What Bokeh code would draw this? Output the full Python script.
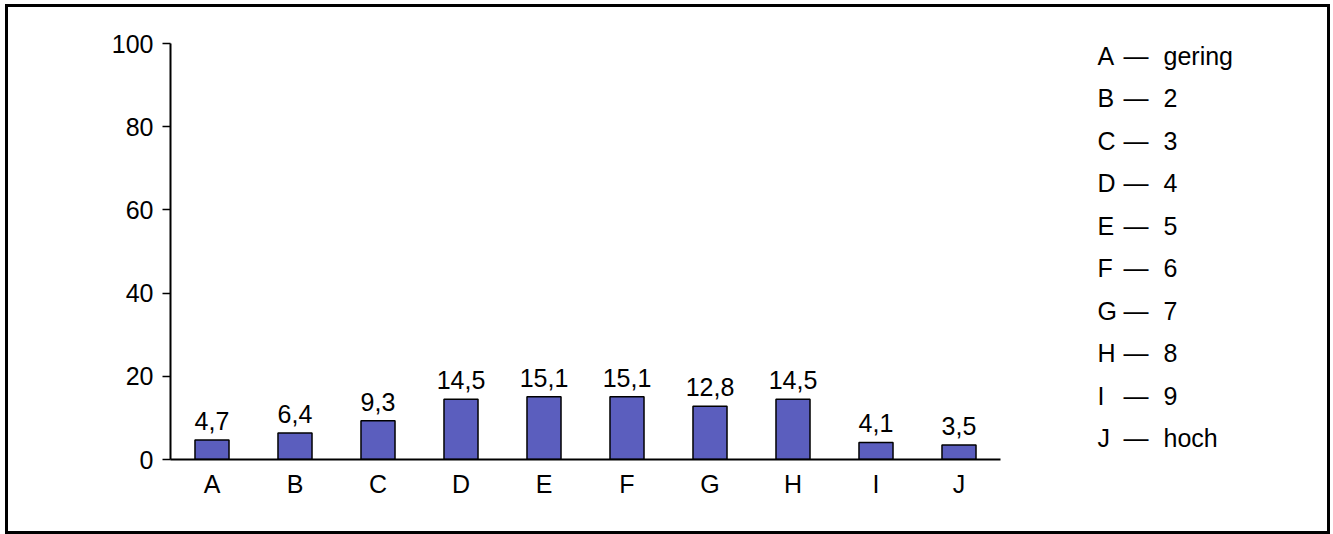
from bokeh.plotting import figure
from bokeh.models import ColumnDataSource, FixedTicker, Range1d, LabelSet
from bokeh.layouts import row
from bokeh.core.properties import value
from bokeh.embed import file_html
from bokeh.resources import INLINE

categories = ["A", "B", "C", "D", "E", "F", "G", "H", "I", "J"]
values = [4.7, 6.4, 9.3, 14.5, 15.1, 15.1, 12.8, 14.5, 4.1, 3.5]
legend_meanings = ["gering", "2", "3", "4", "5", "6", "7", "8", "9", "hoch"]
y_ticks = [0, 20, 40, 60, 80, 100]

FONT = "Liberation Sans"
FS = "25px"
BAR_COLOR = "#5b5ebe"
H = 524
TOP, BOTTOM = 36, 72

source = ColumnDataSource(dict(
    cat=categories,
    val=values,
    lab=[f"{v:.1f}".replace(".", ",") for v in values],
))

p = figure(
    x_range=categories, y_range=Range1d(0, 100),
    width=1052, height=H,
    min_border_left=162, min_border_right=60,
    min_border_top=TOP, min_border_bottom=BOTTOM,
    output_backend="svg", toolbar_location=None,
)
p.outline_line_color = None
p.xgrid.grid_line_color = None
p.ygrid.grid_line_color = None
p.background_fill_color = "white"
p.border_fill_color = "white"

p.vbar(x="cat", top="val", width=0.41, source=source,
       fill_color=BAR_COLOR, line_color="black", line_width=1.5)
p.add_layout(LabelSet(x="cat", y="val", text="lab", source=source,
                      text_align="center", text_baseline="alphabetic",
                      y_offset=10, text_font=value(FONT), text_font_size=value(FS),
                      text_color="black"))

# axes
p.yaxis.ticker = FixedTicker(ticks=y_ticks)
p.yaxis.minor_tick_line_color = None
p.yaxis.major_tick_in = 0
p.yaxis.major_tick_out = 8
p.yaxis.major_tick_line_width = 1.5
p.yaxis.axis_line_width = 2
p.yaxis.major_label_standoff = 9
p.yaxis.major_label_text_font = FONT
p.yaxis.major_label_text_font_size = FS
p.yaxis.major_label_text_color = "black"

p.xaxis.major_tick_line_color = None
p.xaxis.major_tick_in = 0
p.xaxis.major_tick_out = 0
p.xaxis.axis_line_width = 2
p.xaxis.major_label_standoff = 10
p.xaxis.major_label_text_font = FONT
p.xaxis.major_label_text_font_size = FS
p.xaxis.major_label_text_color = "black"

# side key: separate panel, coordinates in canvas pixels from its top-left
KW = 267
k = figure(
    x_range=Range1d(0, KW), y_range=Range1d(H - BOTTOM, TOP),
    width=KW, height=H, min_border_left=0, min_border_right=0,
    min_border_top=TOP, min_border_bottom=BOTTOM,
    output_backend="svg", toolbar_location=None,
)
k.axis.visible = False
k.grid.grid_line_color = None
k.outline_line_color = None
k.background_fill_color = "white"
k.border_fill_color = "white"

rows_y = [48 + 42.5 * i for i in range(len(categories))]
key_src = ColumnDataSource(dict(
    letter=categories,
    dash=["\u2014"] * len(categories),
    meaning=legend_meanings,
    y=rows_y,
))
for col, xpx in (("letter", 37), ("dash", 63), ("meaning", 103)):
    k.text(x=xpx, y="y", text=col, source=key_src,
           text_align="left", text_baseline="alphabetic",
           text_font=value(FONT), text_font_size=FS, text_color="black")

layout = row(p, k, styles={"border": "3px solid black",
                           "margin": "4px 0 0 5px"})

open("out.html", "w").write(file_html(layout, INLINE))
